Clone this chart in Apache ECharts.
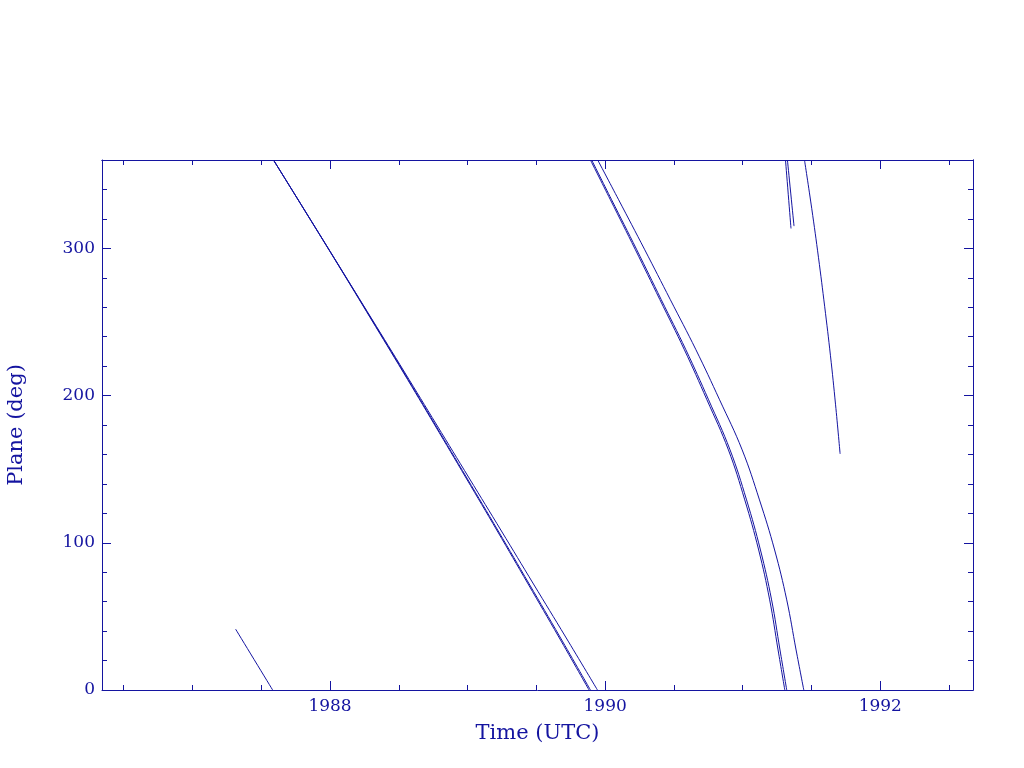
<!DOCTYPE html>
<html><head><meta charset="utf-8">
<script src="https://cdn.jsdelivr.net/npm/echarts@6/dist/echarts.min.js"></script>
<style>html,body{margin:0;padding:0;background:#fff}#c{width:1024px;height:768px}</style>
</head><body><div id="c"></div>
<script>
// Track segments: [year, plane angle (deg)]; angles wrap from 0 back to 360
const trackE  = [[1987.314,41.3],[1987.583,0]];
const trackA1 = [[1987.589,360],[1987.827,324],[1988.064,288],[1988.298,252],[1988.531,216],[1988.761,180],[1988.989,144],[1989.216,108],[1989.440,72],[1989.663,36],[1989.883,0]];
const trackA2 = [[1987.589,360],[1987.828,324],[1988.066,288],[1988.301,252],[1988.535,216],[1988.766,180],[1988.995,144],[1989.223,108],[1989.448,72],[1989.672,36],[1989.893,0]];
const trackA3 = [[1987.589,360],[1987.828,324],[1988.066,288],[1988.304,252],[1988.541,216],[1988.776,180],[1989.011,144],[1989.246,108],[1989.479,72],[1989.713,36],[1989.944,0]];
const trackB1 = [[1989.893,360],[1990.038,333.0],[1990.220,299.0],[1990.398,265.1],[1990.576,231.1],[1990.740,197.1],[1990.896,163.1],[1991.015,129.1],[1991.116,95.1],[1991.196,61.2],[1991.257,27.2],[1991.306,0]];
const trackB2 = [[1989.902,360],[1990.047,333.0],[1990.230,299.0],[1990.408,265.1],[1990.587,231.1],[1990.752,197.1],[1990.908,163.1],[1991.028,129.1],[1991.129,95.1],[1991.210,61.2],[1991.271,27.2],[1991.320,0]];
const trackB3 = [[1989.946,360],[1990.098,333.0],[1990.288,299.0],[1990.474,265.1],[1990.660,231.1],[1990.832,197.1],[1990.996,163.1],[1991.122,129.1],[1991.232,95.1],[1991.320,61.2],[1991.388,27.2],[1991.444,0]];
const trackC1 = [[1991.311,360],[1991.351,313.5]];
const trackC2 = [[1991.325,360],[1991.373,315.1]];
const trackD  = [[1991.449,360],[1991.502,326.9],[1991.551,293.6],[1991.596,260.3],[1991.638,227.0],[1991.675,193.7],[1991.708,160.4]];

const tracks = [trackE, trackA1, trackA2, trackA3, trackB1, trackB2, trackB3, trackC1, trackC2, trackD];

const xMajorTicks = [1988, 1990, 1992];
const xMinorTicks = [1986.5,1987,1987.5,1988,1988.5,1989,1989.5,1990,1990.5,1991,1991.5,1992,1992.5];
const yMajorTicks = [0, 100, 200, 300];
const yMinorTicks = [20,40,60,80,120,140,160,180,220,240,260,280,320,340];

const xRange = [1986.3425, 1992.674];
const yRange = [0, 360];

const C = '#1414a0';
const FONT = 'DejaVu Serif';

function mkX(pos, ticks, len, withLabels) {
  const ax = {
    type: 'value', min: xRange[0], max: xRange[1], position: pos,
    axisLine: { show: withLabels || pos === 'top', onZero: false, lineStyle: { color: C, width: 1 } },
    axisTick: { show: true, inside: true, length: len, customValues: ticks, lineStyle: { color: C, width: 1 } },
    axisLabel: { show: false },
    splitLine: { show: false }
  };
  if (withLabels) {
    ax.axisLabel = { show: true, customValues: xMajorTicks, color: C, fontFamily: FONT, fontSize: 17, margin: 8, formatter: v => String(v) };
    ax.name = 'Time (UTC)';
    ax.nameLocation = 'middle';
    ax.nameGap = 33;
    ax.nameTextStyle = { color: C, fontFamily: FONT, fontSize: 21 };
  }
  return ax;
}
function mkY(pos, ticks, len, withLabels) {
  const ax = {
    type: 'value', min: yRange[0], max: yRange[1], position: pos,
    axisLine: { show: withLabels || pos === 'right', onZero: false, lineStyle: { color: C, width: 1 } },
    axisTick: { show: true, inside: true, length: len, customValues: ticks, lineStyle: { color: C, width: 1 } },
    axisLabel: { show: false },
    splitLine: { show: false }
  };
  if (withLabels) {
    ax.axisLabel = { show: true, customValues: yMajorTicks, color: C, fontFamily: FONT, fontSize: 17, margin: 7, formatter: v => String(v) };
    ax.name = 'Plane (deg)';
    ax.nameLocation = 'middle';
    ax.nameGap = 75;
    ax.nameTextStyle = { color: C, fontFamily: FONT, fontSize: 21 };
  }
  return ax;
}

const chart = echarts.init(document.getElementById('c'), null, { renderer: 'canvas' });
chart.setOption({
  animation: false,
  backgroundColor: '#ffffff',
  grid: { left: 102, right: 51, top: 160, bottom: 78, containLabel: false, outerBoundsMode: 'none' },
  xAxis: [
    mkX('bottom', xMinorTicks, 5, true),
    mkX('bottom', xMajorTicks, 9, false),
    mkX('top', xMinorTicks, 5, false),
    mkX('top', xMajorTicks, 9, false)
  ],
  yAxis: [
    mkY('left', yMinorTicks, 5, true),
    mkY('left', yMajorTicks, 9, false),
    mkY('right', yMinorTicks, 5, false),
    mkY('right', yMajorTicks, 9, false)
  ],
  series: tracks.map(t => ({
    type: 'line', xAxisIndex: 0, yAxisIndex: 0, data: t,
    showSymbol: false, smooth: 0.4, clip: true,
    lineStyle: { color: C, width: 1 }
  }))
});
</script></body></html>
